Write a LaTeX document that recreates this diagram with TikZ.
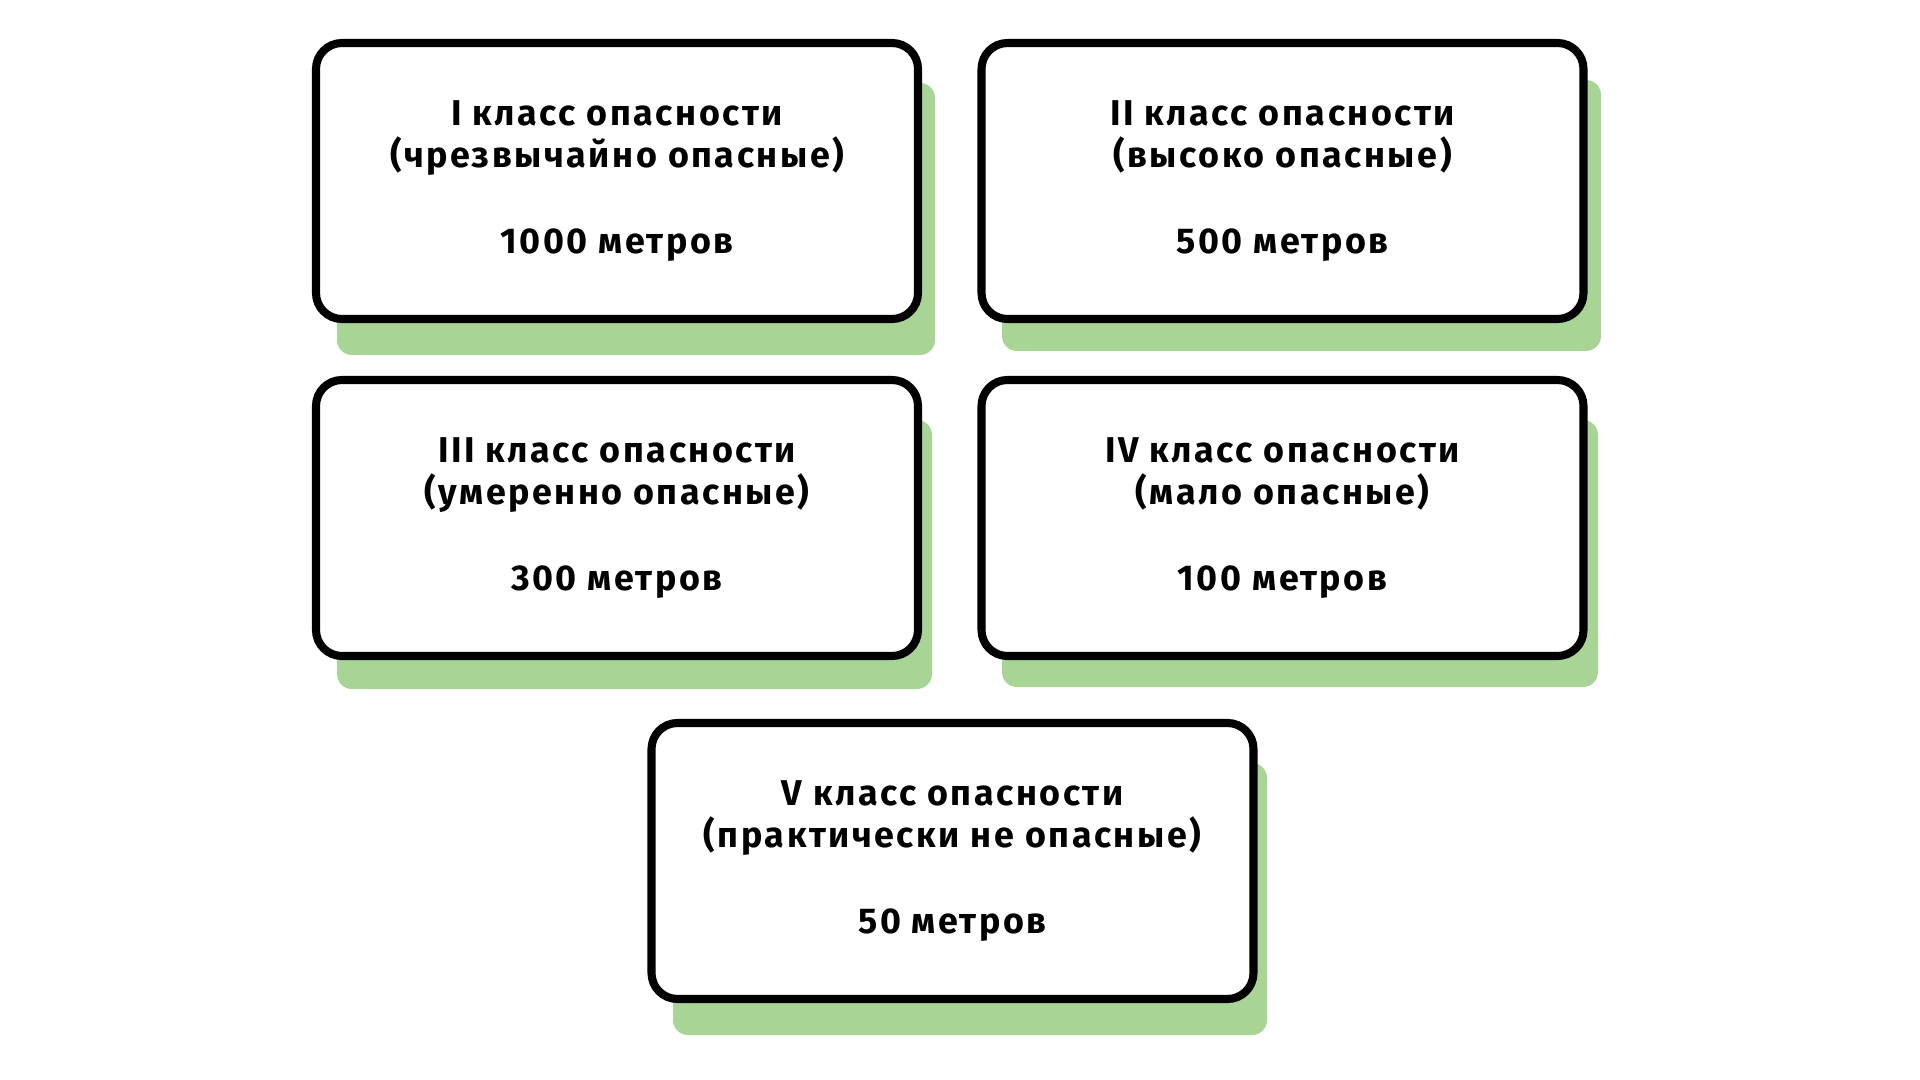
\documentclass[tikz,border=0pt]{standalone}
\usepackage{fontspec}
\setmainfont[LetterSpace=7]{Fira Sans}
\definecolor{tenj}{RGB}{168,213,149}
\begin{document}
\begin{tikzpicture}
\tikzstyle{klass}=[draw,line width=2.3pt,rounded corners=0.26cm,fill=white,minimum width=6.02cm,minimum height=2.76cm,align=center,font=\bfseries\fontsize{10.2}{12.2}\selectfont]
\tikzstyle{ten}=[fill=tenj,rounded corners=0.15cm]
\useasboundingbox (0,0) rectangle (19.2,-10.8);

% zelenye teni
\fill[ten] (3.37,-3.55) rectangle (9.35,-0.83);
\fill[ten] (10.02,-3.51) rectangle (16.01,-0.80);
\fill[ten] (3.37,-6.89) rectangle (9.32,-4.20);
\fill[ten] (10.02,-6.87) rectangle (15.98,-4.20);
\fill[ten] (6.73,-10.35) rectangle (12.67,-7.63);

\node[klass] (k1) at (6.17,-1.81) {I класс опасности\\(чрезвычайно опасные)\\[0.43cm]1000 метров};
\node[klass] (k2) at (12.825,-1.81) {II класс опасности\\(высоко опасные)\\[0.43cm]500 метров};
\node[klass] (k3) at (6.17,-5.18) {III класс опасности\\(умеренно опасные)\\[0.43cm]300 метров};
\node[klass] (k4) at (12.825,-5.18) {IV класс опасности\\(мало опасные)\\[0.43cm]100 метров};
\node[klass] (k5) at (9.525,-8.61) {V класс опасности\\(практически не опасные)\\[0.43cm]50 метров};

\end{tikzpicture}
\end{document}
